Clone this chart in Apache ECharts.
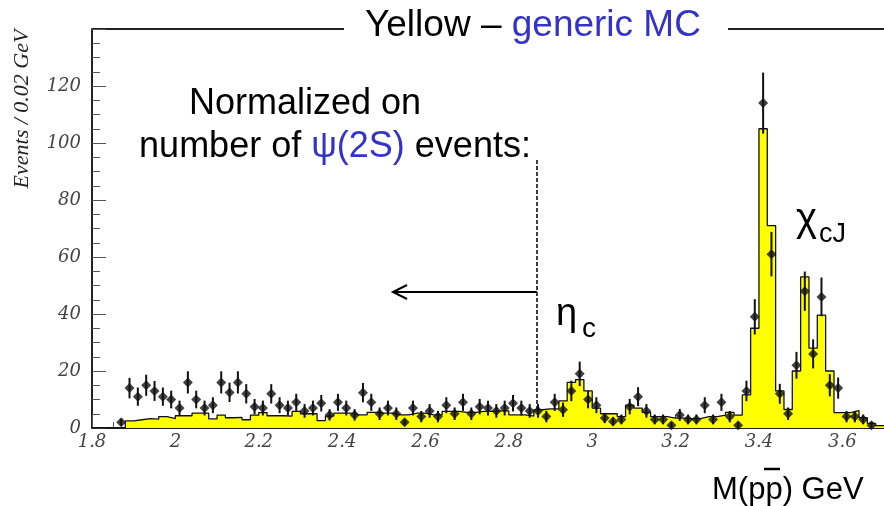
<!DOCTYPE html>
<html><head><meta charset="utf-8">
<script src="https://cdn.jsdelivr.net/npm/echarts@6/dist/echarts.min.js"></script>
<style>html,body{margin:0;padding:0;background:#fff}#c{width:884px;height:506px}</style>
</head><body><div id="c"></div>
<script>
// Bins of 0.02 GeV starting at 1.80 GeV
const binStart = 1.80;
const binWidth = 0.02;
// Generic MC (yellow histogram), one value per bin from 1.80
const mcCounts = [
  0,0,0,0,2.5,2.9,3.3,3.1,4,3.3,
  4.3,4.3,5.2,5.2,3.2,4.5,3.6,3.7,2.9,4.5,
  5.4,4.3,4.3,4.2,5.8,5,5,2.6,4.2,5.2,
  5.2,4.6,4.6,5.5,5.2,5.2,4.6,4.6,5.2,5.2,
  4.6,4.6,5.8,5.8,5.5,5.5,5.8,5.8,6,6,
  4.6,4.6,4.2,6.4,6.7,6.7,9.5,16,17,13,
  7,5,5,4,8,7,5.5,4,4,3.5,
  3.5,3.3,3.3,4,4,4.5,5.5,4.5,11.6,35,
  105,71,13,6.5,20,53,28,39.6,20,5.4,
  5.4,6.1,3.6,1.6,0.8
];
// Data points (black), one value per bin from 1.80
const dataCounts = [
  null,null,null,2,14,11,15,13,11,10,
  7,16,10,7,8,16,12.5,16,12,7.5,
  7,12,8,7,9,6,7,8.7,4.6,9,
  7,4.6,12.4,9,5,7,5,2,7,4,
  6,4,8,5,9,5,7.5,7,6,7,
  8.7,7,6,6,4,9,6.4,13,19,10,
  8,3.5,2.3,3,7.5,11,6,3,3,1,
  4.6,3,3,8,3,9,4,1,13,39,
  114,61,12,5,22,48,26,46,15,14,
  4,4,3,1,null
];
const dataErrors = [
  null,null,null,1.2,3.6,3.2,3.7,3.5,3.2,3.1,
  2.6,3.9,3.1,2.6,2.8,3.9,3.4,3.9,3.4,2.7,
  2.6,3.4,2.8,2.6,3,2.4,2.6,2.9,2,3,
  2.6,2,3.4,3,2.2,2.6,2.2,1.2,2.6,2,
  2.4,2,2.8,2.2,3,2.2,2.7,2.6,2.4,2.6,
  2.9,2.6,2.4,2.4,2,3,2.5,3.6,4.3,3.1,
  2.8,1.8,1.5,1.7,2.7,3.3,2.4,1.7,1.7,1,
  2.1,1.7,1.7,2.8,1.7,3,2,1,3.6,6.2,
  10.7,7.8,3.5,2.2,4.7,6.9,5.1,6.8,3.9,3.7,
  2,2,1.7,1,null
];
const xMin = 1.8, xMax = 3.7, xStep = 0.2;
const yMin = 0, yMax = 140, yStep = 20;

// build histogram step points (bin lower edges + final upper edge)
const histPts = mcCounts.map((v, i) => [+(binStart + i * binWidth).toFixed(3), v]);
histPts.push([+(binStart + mcCounts.length * binWidth).toFixed(3), mcCounts[mcCounts.length - 1]]);
const pts = [], bars = [];
dataCounts.forEach((v, i) => {
  if (v === null) return;
  const xc = +(binStart + (i + 0.5) * binWidth).toFixed(3);
  pts.push([xc, v]);
  const e = dataErrors[i];
  if (e) bars.push([xc, Math.max(0, v - e), v + e]);
});

const chart = echarts.init(document.getElementById('c'), null, {renderer: 'canvas'});
const labelFont = {fontFamily: 'DejaVu Serif', fontStyle: 'italic', fontSize: 18, color: '#444'};
const sans = '"Liberation Sans", Arial, sans-serif';
chart.setOption({
  animation: false,
  backgroundColor: '#fff',
  grid: {left: 92, top: 29, right: -4, bottom: 78},
  xAxis: {
    type: 'value', min: xMin, max: xMax, interval: xStep,
    axisLine: {show: true, lineStyle: {color: '#222', width: 2}},
    axisTick: {show: true, inside: true, length: 13, lineStyle: {color: '#555', width: 1}},
    minorTick: {show: true, splitNumber: 4, length: 6, lineStyle: {color: '#555', width: 1}},
    splitLine: {show: false},
    axisLabel: Object.assign({margin: 5, showMaxLabel: false, formatter: v => String(+v.toFixed(1))}, labelFont)
  },
  yAxis: {
    type: 'value', min: yMin, max: yMax, interval: yStep,
    axisLine: {show: true, lineStyle: {color: '#222', width: 2}},
    axisTick: {show: true, inside: true, length: 14, lineStyle: {color: '#555', width: 1}},
    minorTick: {show: true, splitNumber: 4, length: 8, lineStyle: {color: '#555', width: 1}},
    splitLine: {show: false},
    axisLabel: Object.assign({margin: 11, showMaxLabel: false}, labelFont)
  },
  series: [
    {
      type: 'line', data: histPts, step: 'end', symbol: 'none',
      lineStyle: {color: '#111', width: 1.3},
      areaStyle: {color: '#ffff00', opacity: 1},
      z: 2
    },
    {
      type: 'custom', data: bars, z: 3,
      renderItem: (params, api) => {
        const p1 = api.coord([api.value(0), api.value(1)]);
        const p2 = api.coord([api.value(0), api.value(2)]);
        return {type: 'line', shape: {x1: p1[0], y1: p1[1], x2: p2[0], y2: p2[1]},
          style: {stroke: '#111', lineWidth: 2}};
      }
    },
    {
      type: 'scatter', data: pts, symbol: 'diamond', symbolSize: [10, 10],
      itemStyle: {color: '#111'}, z: 4
    }
  ],
  graphic: [
    // top frame, interrupted by the title
    {type: 'line', shape: {x1: 92, y1: 29, x2: 344, y2: 29}, style: {stroke: '#222', lineWidth: 2}},
    {type: 'line', shape: {x1: 728, y1: 29, x2: 884, y2: 29}, style: {stroke: '#222', lineWidth: 2}},
    {type: 'text', x: 365, y: 26, style: {
      text: '{a|Yellow – }{b|generic MC}', textVerticalAlign: 'middle',
      rich: {a: {font: '37px ' + sans, fill: '#000'}, b: {font: '37px ' + sans, fill: '#3333cc'}}
    }},
    // y-axis title
    {type: 'text', x: 22, y: 109, rotation: Math.PI / 2, style: {
      text: 'Events / 0.02 GeV', font: 'italic 22px "Liberation Serif", serif', fill: '#222',
      textAlign: 'center', textVerticalAlign: 'middle'
    }},
    // annotations
    {type: 'text', x: 305, y: 104, style: {text: 'Normalized on', font: '36px ' + sans, fill: '#000',
      textAlign: 'center', textVerticalAlign: 'middle'}},
    {type: 'text', x: 335, y: 147, style: {
      text: '{a|number of }{b|ψ(2S)}{a| events:}', textAlign: 'center', textVerticalAlign: 'middle',
      rich: {a: {font: '36px ' + sans, fill: '#000'}, b: {font: '36px ' + sans, fill: '#3333cc'}}
    }},
    {type: 'line', shape: {x1: 537, y1: 160, x2: 537, y2: 410}, style: {stroke: '#000', lineWidth: 1.5, lineDash: [4, 2]}},
    {type: 'line', shape: {x1: 393, y1: 292, x2: 537, y2: 292}, style: {stroke: '#000', lineWidth: 2}},
    {type: 'polyline', shape: {points: [[407, 285], [393, 292], [407, 299]]}, style: {stroke: '#000', lineWidth: 2, fill: null}},
    {type: 'text', x: 556, y: 315, style: {text: 'η', font: '38px ' + sans, fill: '#000', textVerticalAlign: 'middle'}},
    {type: 'text', x: 582, y: 329, style: {text: 'c', font: '28px ' + sans, fill: '#000', textVerticalAlign: 'middle'}},
    {type: 'text', x: 796, y: 220, style: {text: 'χ', font: '40px ' + sans, fill: '#000', textVerticalAlign: 'middle'}},
    {type: 'text', x: 819, y: 235, style: {text: 'cJ', font: '27px ' + sans, fill: '#000', textVerticalAlign: 'middle'}},
    {type: 'text', x: 712, y: 490, style: {text: 'M(pp) GeV', font: '31px ' + sans, fill: '#000', textVerticalAlign: 'middle'}},
    {type: 'line', shape: {x1: 764, y1: 469, x2: 780, y2: 469}, style: {stroke: '#000', lineWidth: 2.5}}
  ]
});
</script>
</body></html>
